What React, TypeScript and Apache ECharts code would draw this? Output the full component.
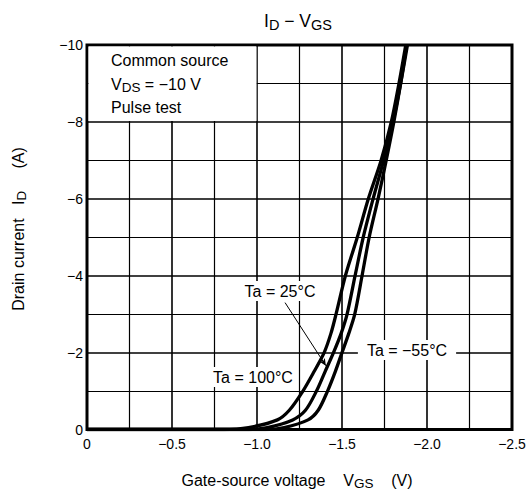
import React, { useEffect, useRef } from "react";
import * as echarts from "echarts";

// Drain current levels (A) at which the gate-source voltage was read
const idLevels = [0, -0.05, -0.25, -0.5, -1, -1.5, -2, -2.5, -3, -4, -5, -6, -7, -8, -9, -10];
// Gate-source voltage (V) of each curve at those current levels
const vgsTa100 = [-0.8, -0.95, -1.12, -1.19, -1.27, -1.335, -1.395, -1.435, -1.465, -1.52, -1.59, -1.655, -1.73, -1.79, -1.835, -1.875];
const vgsTa25 = [-0.95, -1.06, -1.21, -1.285, -1.35, -1.4, -1.45, -1.495, -1.53, -1.577, -1.625, -1.683, -1.745, -1.8, -1.845, -1.885];
const vgsTaM55 = [-1.05, -1.16, -1.3, -1.36, -1.415, -1.46, -1.5, -1.54, -1.575, -1.618, -1.66, -1.712, -1.76, -1.805, -1.845, -1.88];

const xTicks = [0, -0.5, -1.0, -1.5, -2.0, -2.5];
const yTicks = [0, -2, -4, -6, -8, -10];

const FONT = "'Liberation Sans', Arial, sans-serif";

function fmtNeg(v: number, digits: number) {
  if (Math.abs(v) < 1e-9) return "0";
  return "\u2212" + Math.abs(v).toFixed(digits);
}

export default function App() {
  const ref = useRef<HTMLDivElement>(null);
  useEffect(() => {
    if (!ref.current) return;
    const chart = echarts.init(ref.current, undefined, { renderer: "svg" });
    const mk = (vs: number[]) => [[0, 0], ...vs.map((v, k) => [v, idLevels[k]])];
    const lineSeries = (name: string, vs: number[], extra: any = {}) => ({
      name,
      type: "line",
      data: mk(vs),
      smooth: 0.3,
      symbol: "none",
      lineStyle: { color: "#000", width: 3.3 },
      z: 5,
      ...extra,
    });
    const sub = { fontSize: 13.5, fontFamily: FONT, color: "#000", verticalAlign: "bottom", lineHeight: 13 };
    chart.setOption({
      animation: false,
      backgroundColor: "#fff",
      grid: { left: 87, right: 17, top: 45, bottom: 69.5, show: true, borderColor: "#000", borderWidth: 3, backgroundColor: "transparent" },
      xAxis: {
        type: "value",
        min: xTicks[xTicks.length - 1],
        max: xTicks[0],
        interval: 0.5,
        inverse: true,
        axisLine: { show: false },
        axisTick: { show: false },
        axisLabel: { color: "#000", fontSize: 14, fontFamily: FONT, margin: 7, formatter: (v: number) => fmtNeg(v, 1) },
        splitLine: { show: true, lineStyle: { color: "#000", width: 1.6 } },
        minorTick: { show: false, splitNumber: 2 },
        minorSplitLine: { show: true, lineStyle: { color: "#000", width: 1.2 } },
      },
      yAxis: {
        type: "value",
        min: yTicks[yTicks.length - 1],
        max: yTicks[0],
        interval: 2,
        inverse: true,
        axisLine: { show: false },
        axisTick: { show: false },
        axisLabel: { color: "#000", fontSize: 14, fontFamily: FONT, margin: 4, formatter: (v: number) => fmtNeg(v, 0) },
        splitLine: { show: true, lineStyle: { color: "#000", width: 1.6 } },
        minorTick: { show: false, splitNumber: 2 },
        minorSplitLine: { show: true, lineStyle: { color: "#000", width: 1.2 } },
      },
      series: [
        lineSeries("Ta = 100°C", vgsTa100, {
          markArea: {
            silent: true,
            itemStyle: { color: "#fff" },
            data: [[{ coord: [-0.009, -9.96] }, { coord: [-0.997, -8.022] }]],
          },
        }),
        lineSeries("Ta = 25°C", vgsTa25, {
          markLine: {
            silent: true,
            symbol: ["none", "arrow"],
            symbolSize: [5, 7],
            label: { show: false },
            lineStyle: { color: "#000", width: 1, type: "solid" },
            data: [[{ coord: [-1.165, -3.3] }, { coord: [-1.405, -1.66] }]],
          },
        }),
        lineSeries("Ta = −55°C", vgsTaM55),
      ],
      graphic: [
        {
          type: "text", x: 298, y: 21, z: 100,
          style: {
            text: "{m|I}{s|D}{m| \u2212 V}{s|GS}",
            align: "center", verticalAlign: "middle",
            rich: { m: { fontSize: 17.5, fontFamily: FONT, color: "#000", lineHeight: 22 }, s: { ...sub, fontSize: 14.5, lineHeight: 14 } },
          },
        },
        {
          type: "text", x: 111, y: 60, z: 100,
          style: { text: "Common source", fontSize: 16, fontFamily: FONT, fill: "#000", verticalAlign: "middle" },
        },
        {
          type: "text", x: 111, y: 84, z: 100,
          style: {
            text: "{m|V}{s|DS}{m| = \u221210 V}", verticalAlign: "middle",
            rich: { m: { fontSize: 16, fontFamily: FONT, color: "#000", lineHeight: 20 }, s: sub },
          },
        },
        {
          type: "text", x: 111, y: 107, z: 100,
          style: { text: "Pulse test", fontSize: 16, fontFamily: FONT, fill: "#000", verticalAlign: "middle" },
        },
        {
          type: "text", x: 280, y: 291, z: 100,
          style: { text: "Ta = 25°C", fontSize: 16, fontFamily: FONT, fill: "#000", align: "center", verticalAlign: "middle", backgroundColor: "#fff", padding: [2, 2] },
        },
        {
          type: "text", x: 253, y: 377, z: 100,
          style: { text: "Ta = 100°C", fontSize: 16, fontFamily: FONT, fill: "#000", align: "center", verticalAlign: "middle", backgroundColor: "#fff", padding: [2, 3] },
        },
        {
          type: "text", x: 407, y: 350, z: 100,
          style: { text: "Ta = \u221255°C", fontSize: 16, fontFamily: FONT, fill: "#000", align: "center", verticalAlign: "middle", backgroundColor: "#fff", padding: [2, 9] },
        },
        {
          type: "text", x: 297, y: 480, z: 100,
          style: {
            text: "{m|Gate-source voltage    V}{s|GS}{m|    (V)}", align: "center", verticalAlign: "middle",
            rich: { m: { fontSize: 16, fontFamily: FONT, color: "#000", lineHeight: 20 }, s: sub },
          },
        },
        {
          type: "text", x: 18, y: 229, rotation: Math.PI / 2, z: 100,
          style: {
            text: "{m|Drain current   I}{s|D}{m|     (A)}", align: "center", verticalAlign: "middle",
            rich: { m: { fontSize: 16, fontFamily: FONT, color: "#000", lineHeight: 20 }, s: sub },
          },
        },
      ],
    });
    return () => chart.dispose();
  }, []);
  return <div ref={ref} style={{ position: "absolute", left: 0, top: 0, width: 529, height: 499 }} />;
}
